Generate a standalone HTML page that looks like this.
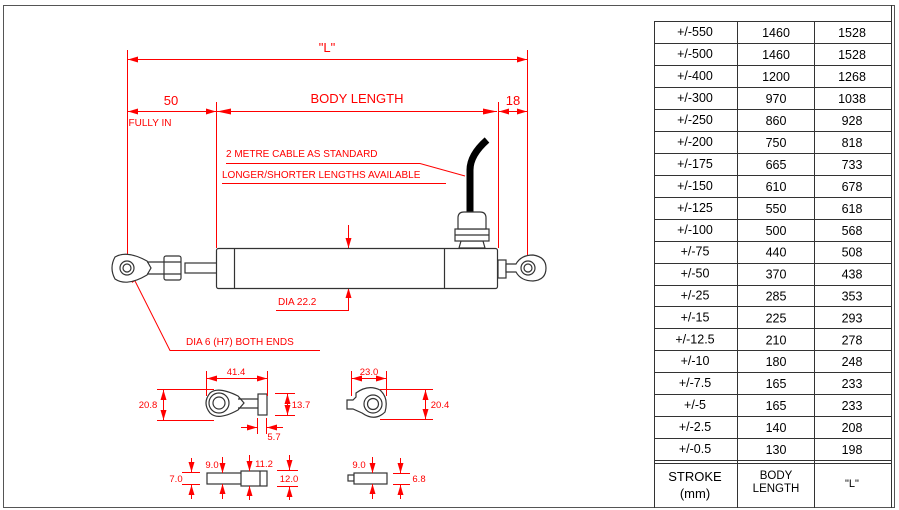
<!DOCTYPE html>
<html><head><meta charset="utf-8"><style>
html,body{margin:0;padding:0;background:#fff}
svg{display:block}
text{font-family:"Liberation Sans",Arial,sans-serif}
.r{fill:#f00}
</style></head><body>
<svg width="899" height="510" viewBox="0 0 899 510" xmlns="http://www.w3.org/2000/svg">
<defs>
<marker id="a" viewBox="0 0 10 6" refX="10" refY="3" markerWidth="10" markerHeight="6" orient="auto-start-reverse" markerUnits="userSpaceOnUse"><path d="M0,0L10,3L0,6z" fill="#f00"/></marker>
<marker id="b" viewBox="0 0 14 6" refX="14" refY="3" markerWidth="14" markerHeight="6" orient="auto-start-reverse" markerUnits="userSpaceOnUse"><path d="M0,0L14,3L0,6z" fill="#f00"/></marker>
</defs>
<rect x="3.5" y="5.5" width="891" height="502" fill="none" stroke="#555" stroke-width="1"/>

<!-- TABLE -->
<g stroke="#333" stroke-width="1" fill="none">
<line x1="891.5" y1="5" x2="891.5" y2="508"/>
<line x1="654.5" y1="21" x2="654.5" y2="508"/>
<line x1="737.5" y1="21" x2="737.5" y2="508"/>
<line x1="814.5" y1="21" x2="814.5" y2="508"/>
<line x1="654" y1="21.5" x2="891" y2="21.5"/>
<line x1="654" y1="460.5" x2="891" y2="460.5"/>
<line x1="654" y1="463.5" x2="891" y2="463.5"/>
<line x1="654" y1="43.5" x2="891" y2="43.5"/><line x1="654" y1="65.5" x2="891" y2="65.5"/>
<line x1="654" y1="87.5" x2="891" y2="87.5"/><line x1="654" y1="109.5" x2="891" y2="109.5"/>
<line x1="654" y1="131.5" x2="891" y2="131.5"/><line x1="654" y1="153.5" x2="891" y2="153.5"/>
<line x1="654" y1="175.5" x2="891" y2="175.5"/><line x1="654" y1="197.5" x2="891" y2="197.5"/>
<line x1="654" y1="219.5" x2="891" y2="219.5"/><line x1="654" y1="241.5" x2="891" y2="241.5"/>
<line x1="654" y1="263.5" x2="891" y2="263.5"/><line x1="654" y1="285.5" x2="891" y2="285.5"/>
<line x1="654" y1="306.5" x2="891" y2="306.5"/><line x1="654" y1="328.5" x2="891" y2="328.5"/>
<line x1="654" y1="350.5" x2="891" y2="350.5"/><line x1="654" y1="372.5" x2="891" y2="372.5"/>
<line x1="654" y1="394.5" x2="891" y2="394.5"/><line x1="654" y1="416.5" x2="891" y2="416.5"/>
<line x1="654" y1="438.5" x2="891" y2="438.5"/>
</g>
<g font-size="12.5" text-anchor="middle" fill="#000">
<text x="695" y="36">+/-550</text><text x="776" y="37">1460</text><text x="852" y="37">1528</text>
<text x="695" y="58">+/-500</text><text x="776" y="59">1460</text><text x="852" y="59">1528</text>
<text x="695" y="80">+/-400</text><text x="776" y="81">1200</text><text x="852" y="81">1268</text>
<text x="695" y="102">+/-300</text><text x="776" y="103">970</text><text x="852" y="103">1038</text>
<text x="695" y="124">+/-250</text><text x="776" y="125">860</text><text x="852" y="125">928</text>
<text x="695" y="146">+/-200</text><text x="776" y="147">750</text><text x="852" y="147">818</text>
<text x="695" y="168">+/-175</text><text x="776" y="169">665</text><text x="852" y="169">733</text>
<text x="695" y="190">+/-150</text><text x="776" y="191">610</text><text x="852" y="191">678</text>
<text x="695" y="212">+/-125</text><text x="776" y="213">550</text><text x="852" y="213">618</text>
<text x="695" y="234">+/-100</text><text x="776" y="235">500</text><text x="852" y="235">568</text>
<text x="695" y="255.5">+/-75</text><text x="776" y="256.5">440</text><text x="852" y="256.5">508</text>
<text x="695" y="277.5">+/-50</text><text x="776" y="278.5">370</text><text x="852" y="278.5">438</text>
<text x="695" y="299.5">+/-25</text><text x="776" y="300.5">285</text><text x="852" y="300.5">353</text>
<text x="695" y="321.5">+/-15</text><text x="776" y="322.5">225</text><text x="852" y="322.5">293</text>
<text x="695" y="343.5">+/-12.5</text><text x="776" y="344.5">210</text><text x="852" y="344.5">278</text>
<text x="695" y="365">+/-10</text><text x="776" y="366">180</text><text x="852" y="366">248</text>
<text x="695" y="387">+/-7.5</text><text x="776" y="388">165</text><text x="852" y="388">233</text>
<text x="695" y="409">+/-5</text><text x="776" y="410">165</text><text x="852" y="410">233</text>
<text x="695" y="431">+/-2.5</text><text x="776" y="432">140</text><text x="852" y="432">208</text>
<text x="695" y="453">+/-0.5</text><text x="776" y="454">130</text><text x="852" y="454">198</text>
<text x="695" y="481" font-size="13">STROKE</text>
<text x="695" y="498" font-size="13">(mm)</text>
<text x="776" y="479" font-size="11.5">BODY</text>
<text x="776" y="492" font-size="11.5">LENGTH</text>
<text x="852" y="487" font-size="11">"L"</text>
</g>

<!-- RED DIMENSIONS -->
<g stroke="#f00" stroke-width="1" fill="none">
<line x1="127.5" y1="50" x2="127.5" y2="262"/>
<line x1="527.5" y1="50" x2="527.5" y2="262"/>
<line x1="128" y1="59.5" x2="527" y2="59.5" marker-start="url(#a)" marker-end="url(#a)"/>
<line x1="216.5" y1="102" x2="216.5" y2="248"/>
<line x1="498.5" y1="102" x2="498.5" y2="248"/>
<line x1="128" y1="111.5" x2="216" y2="111.5" marker-start="url(#a)" marker-end="url(#a)"/>
<line x1="217" y1="111.5" x2="497" y2="111.5" marker-start="url(#b)" marker-end="url(#b)"/>
<line x1="499" y1="111.5" x2="527" y2="111.5" marker-start="url(#a)" marker-end="url(#a)"/>
<polyline points="226,163.5 420,163.5 465,176"/>
<line x1="222" y1="183.5" x2="446" y2="183.5"/>
<line x1="348.5" y1="225" x2="348.5" y2="248" marker-end="url(#a)"/>
<line x1="348.5" y1="310" x2="348.5" y2="288" marker-end="url(#a)"/>
<line x1="276" y1="310.5" x2="349" y2="310.5"/>
<polyline points="320,350.5 170,350.5 131,273"/>
<path d="M131,273 l1,10 l6,-4z" fill="#f00" stroke="none"/>
</g>
<g class="r" font-size="13" text-anchor="middle">
<text x="327" y="52">"L"</text>
<text x="171" y="105">50</text>
<text x="357" y="103">BODY LENGTH</text>
<text x="513" y="105">18</text>
</g>
<g class="r" font-size="10">
<text x="150" y="126" text-anchor="middle">FULLY IN</text>
<text x="226" y="157">2 METRE CABLE AS STANDARD</text>
<text x="222" y="178">LONGER/SHORTER LENGTHS AVAILABLE</text>
<text x="278" y="305">DIA 22.2</text>
<text x="186" y="345">DIA 6 (H7) BOTH ENDS</text>
</g>

<!-- MAIN DRAWING -->
<g stroke="#333" stroke-width="1.2" fill="#fff">
<path d="M470,214 L470,170 Q470,155 487,140" stroke="#000" stroke-width="7" fill="none"/>
<rect x="185" y="263" width="32" height="10"/>
<rect x="216.5" y="248.5" width="281" height="40" rx="2"/>
<line x1="234.5" y1="249" x2="234.5" y2="288"/>
<line x1="444.5" y1="249" x2="444.5" y2="288"/>
<path d="M459,248 L461,241 L483,241 L485,248z"/>
<rect x="455" y="229" width="34" height="12"/>
<line x1="455" y1="235" x2="489" y2="235"/>
<path d="M458,229 L458,218 Q458,212 464,212 L480,212 Q486,212 486,218 L486,229z"/>
<rect x="164" y="256" width="17" height="24" rx="2"/>
<line x1="164" y1="262" x2="181" y2="262"/><line x1="164" y1="274" x2="181" y2="274"/>
<path d="M115,257 Q127,250 147,261 L151,268 L147,275 Q127,287 115,279 Q109,268 115,257z"/>
<line x1="147" y1="262" x2="164" y2="262"/><line x1="147" y1="274" x2="164" y2="274"/>
<circle cx="127" cy="268" r="7"/><circle cx="127" cy="268" r="4"/>
<rect x="498" y="260" width="8" height="18"/>
<path d="M506,264 L516,264 Q521,255 533,255 Q546,257 546,268 Q546,280 533,281 Q521,281 516,272 L506,272z"/>
<circle cx="528" cy="268" r="7"/><circle cx="528" cy="268" r="4"/>
</g>

<!-- SMALL VIEWS -->
<g stroke="#333" stroke-width="1.2" fill="#fff">
<path d="M210,393 Q218,386 238,396 L244,403 L238,410 Q218,421 210,413 Q202,403 210,393z"/>
<line x1="238" y1="399" x2="258" y2="399"/><line x1="238" y1="408" x2="258" y2="408"/>
<circle cx="219" cy="403" r="10"/><circle cx="219" cy="403" r="6"/>
<rect x="258" y="394" width="9" height="21"/>
<path d="M356,397 L356,393 Q368,384 380,390 Q389,398 385,412 Q375,422 362,413 L353,409 L347,409 L347,400 L353,400z"/>
<circle cx="373" cy="404" r="9"/><circle cx="373" cy="404" r="5.5"/>
<rect x="207" y="473" width="35" height="11"/>
<rect x="241" y="471" width="26" height="15"/>
<line x1="260" y1="471" x2="260" y2="486"/>
<rect x="348" y="475" width="6" height="6"/>
<rect x="354" y="473" width="33" height="11"/>
</g>
<g stroke="#f00" stroke-width="1" fill="none">
<line x1="206.5" y1="371" x2="206.5" y2="396"/><line x1="267.5" y1="371" x2="267.5" y2="396"/>
<line x1="207" y1="378.5" x2="267" y2="378.5" marker-start="url(#a)" marker-end="url(#a)"/>
<line x1="157" y1="389.5" x2="214" y2="389.5"/><line x1="157" y1="420.5" x2="214" y2="420.5"/>
<line x1="163.5" y1="390" x2="163.5" y2="420" marker-start="url(#a)" marker-end="url(#a)"/>
<line x1="275" y1="393.5" x2="295" y2="393.5"/><line x1="275" y1="415.5" x2="295" y2="415.5"/>
<line x1="287.5" y1="394" x2="287.5" y2="415" marker-start="url(#a)" marker-end="url(#a)"/>
<line x1="257.5" y1="418" x2="257.5" y2="434"/><line x1="266.5" y1="418" x2="266.5" y2="434"/>
<line x1="241" y1="427.5" x2="257" y2="427.5" marker-end="url(#a)"/>
<line x1="283" y1="427.5" x2="267" y2="427.5" marker-end="url(#a)"/>
<line x1="351.5" y1="371" x2="351.5" y2="396"/><line x1="386.5" y1="371" x2="386.5" y2="396"/>
<line x1="352" y1="378.5" x2="386" y2="378.5" marker-start="url(#a)" marker-end="url(#a)"/>
<line x1="380" y1="389.5" x2="433" y2="389.5"/><line x1="380" y1="419.5" x2="433" y2="419.5"/>
<line x1="425.5" y1="390" x2="425.5" y2="419" marker-start="url(#a)" marker-end="url(#a)"/>
<line x1="182" y1="472.5" x2="200" y2="472.5"/><line x1="182" y1="484.5" x2="200" y2="484.5"/>
<line x1="191.5" y1="458" x2="191.5" y2="472" marker-end="url(#a)"/>
<line x1="191.5" y1="499" x2="191.5" y2="485" marker-end="url(#a)"/>
<line x1="222.5" y1="457" x2="222.5" y2="473" marker-end="url(#a)"/>
<line x1="222.5" y1="499" x2="222.5" y2="484" marker-end="url(#a)"/>
<line x1="249.5" y1="455" x2="249.5" y2="471" marker-end="url(#a)"/>
<line x1="249.5" y1="500" x2="249.5" y2="486" marker-end="url(#a)"/>
<line x1="277" y1="470.5" x2="298" y2="470.5"/><line x1="277" y1="486.5" x2="298" y2="486.5"/>
<line x1="289.5" y1="455" x2="289.5" y2="470" marker-end="url(#a)"/>
<line x1="289.5" y1="500" x2="289.5" y2="487" marker-end="url(#a)"/>
<line x1="372.5" y1="457" x2="372.5" y2="473" marker-end="url(#a)"/>
<line x1="372.5" y1="499" x2="372.5" y2="484" marker-end="url(#a)"/>
<line x1="393" y1="473.5" x2="410" y2="473.5"/><line x1="393" y1="484.5" x2="410" y2="484.5"/>
<line x1="400.5" y1="458" x2="400.5" y2="473" marker-end="url(#a)"/>
<line x1="400.5" y1="499" x2="400.5" y2="485" marker-end="url(#a)"/>
</g>
<g class="r" font-size="9.5" text-anchor="middle">
<text x="236" y="375">41.4</text>
<text x="148" y="408">20.8</text>
<text x="301" y="408">13.7</text>
<text x="274" y="440">5.7</text>
<text x="369" y="375">23.0</text>
<text x="440" y="408">20.4</text>
<text x="176" y="482">7.0</text>
<text x="212" y="468">9.0</text>
<text x="264" y="467">11.2</text>
<text x="289" y="482">12.0</text>
<text x="359" y="468">9.0</text>
<text x="419" y="482">6.8</text>
</g>
</svg>
</body></html>
